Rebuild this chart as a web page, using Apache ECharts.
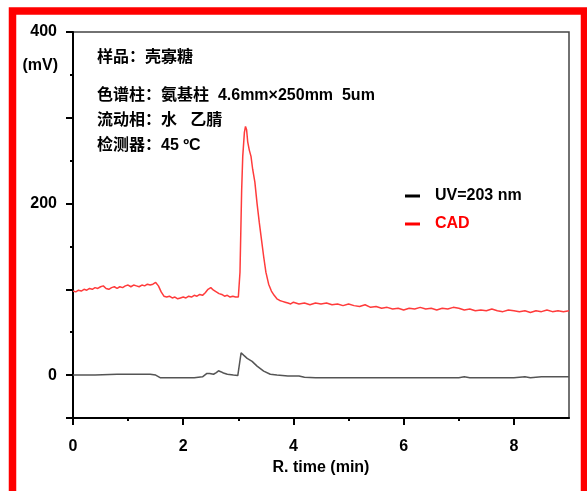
<!DOCTYPE html>
<html>
<head>
<meta charset="utf-8">
<script src="https://cdn.jsdelivr.net/npm/echarts@6/dist/echarts.min.js"></script>
<style>
    html, body { margin: 0; padding: 0; background: #fff; }
    #chart { width: 587px; height: 491px; }
</style>
</head>
<body>
<div id="chart"></div>
<script>
// CAD trace (red), retention time in min / signal in mV
var cadTime = [0.00, 0.05, 0.10, 0.15, 0.20, 0.25, 0.30, 0.35, 0.40, 0.45, 0.50, 0.55, 0.60, 0.65, 0.70, 0.75, 0.80, 0.85, 0.90, 0.95,
    1.00, 1.05, 1.10, 1.15, 1.20, 1.25, 1.30, 1.35, 1.40, 1.45, 1.50, 1.55, 1.60, 1.65, 1.70, 1.75, 1.80, 1.85, 1.90, 1.95,
    2.00, 2.05, 2.10, 2.15, 2.20, 2.25, 2.30, 2.35, 2.40, 2.45, 2.50, 2.55, 2.60, 2.65, 2.70, 2.75, 2.80, 2.85, 2.90, 2.95,
    3.00, 3.03, 3.06, 3.08, 3.11, 3.13, 3.15, 3.17, 3.20, 3.23, 3.26, 3.30, 3.34, 3.38, 3.42, 3.46, 3.50, 3.55, 3.60, 3.65,
    3.70, 3.75, 3.80, 3.85, 3.90, 3.95, 4.00, 4.10, 4.20, 4.30, 4.40, 4.50, 4.60, 4.70, 4.80, 4.90, 5.00, 5.10, 5.20, 5.30,
    5.40, 5.50, 5.60, 5.70, 5.80, 5.90, 6.00, 6.10, 6.20, 6.30, 6.40, 6.50, 6.60, 6.70, 6.80, 6.90, 7.00, 7.10, 7.20, 7.30,
    7.40, 7.50, 7.60, 7.70, 7.80, 7.90, 8.00, 8.10, 8.20, 8.30, 8.40, 8.50, 8.60, 8.70, 8.80, 8.90, 9.00];
var cadSignal = [98, 97, 99, 98, 100, 99, 101, 100, 102, 101, 103, 104, 101, 100, 102, 103, 101, 103, 102, 104,
    105, 103, 105, 104, 103, 105, 104, 106, 105, 106, 108, 104, 97, 92, 91, 92, 90, 91, 89, 90,
    91, 90, 92, 91, 93, 92, 94, 93, 96, 100, 102, 99, 97, 95, 94, 92, 93, 91, 92, 91,
    91, 120, 215, 255, 283, 290, 286, 272, 262, 255, 240, 225, 200, 178, 158, 138, 120, 106, 98, 93,
    89, 87, 86, 85, 84, 83, 85, 83, 84, 82, 84, 83, 84, 82, 83, 81, 83, 81, 80, 82,
    79, 80, 78, 79, 77, 78, 76, 78, 77, 79, 77, 78, 76, 78, 77, 79, 78, 76, 77, 75,
    76, 75, 77, 75, 74, 76, 75, 74, 75, 73, 75, 74, 76, 74, 75, 74, 75];

// UV 203 nm trace (black)
var uvTime = [0.00, 0.40, 0.80, 1.00, 1.20, 1.40, 1.50, 1.58, 1.80, 2.00, 2.20, 2.35, 2.43, 2.48, 2.55, 2.60, 2.64, 2.68, 2.73, 2.80,
    2.91, 2.99, 3.05, 3.10, 3.16, 3.25, 3.34, 3.46, 3.58, 3.70, 3.90, 4.10, 4.20, 4.40, 4.70, 5.00, 5.50, 6.00, 6.50, 7.00,
    7.10, 7.20, 7.50, 8.00, 8.20, 8.30, 8.50, 9.00];
var uvSignal = [0, 0, 1, 1, 1, 1, 0, -3, -3, -3, -3, -2, 2, 2, 1, 3, 5, 4, 2.5, 1,
    0, -0.5, 26, 23, 19.5, 16, 10.5, 4.7, 1, 0, -1, -1, -2.5, -3, -3, -3, -3, -3, -3, -3,
    -2, -3, -3, -3, -2, -3, -2, -2];

var seriesNames = ['UV=203 nm', 'CAD'];
var xLabelValues = [0, 2, 4, 6, 8];
var xMinorTicks = [1, 3, 5, 7];
var yLabelValues = [0, 200, 400];
var yMajorTicks = [-50, 0, 100, 200, 300, 400];
var yMinorTicks = [50, 150, 250, 350];

var infoLines = ['样品：壳寡糖', '色谱柱：氨基柱  4.6mm×250mm  5um', '流动相：水   乙腈', '检测器：45 ºC'];

function pairs(t, v) {
    var out = [];
    for (var i = 0; i < t.length; i++) out.push([t[i], v[i]]);
    return out;
}

var myChart = echarts.init(document.getElementById('chart'));
var latin = '"Liberation Sans", Arial, "Noto Sans CJK SC", sans-serif';
var infoY = [58, 96, 121, 146];

var graphics = [{
    type: 'rect',
    shape: { x: 12.5, y: 11, width: 572, height: 500 },
    style: { fill: null, stroke: '#ff0000', lineWidth: 7.5 },
    z: 100
}, {
    type: 'text',
    style: {
        text: '(mV)', x: 58, y: 66, align: 'right', verticalAlign: 'middle',
        font: 'bold 16px ' + latin, fill: '#000'
    }
}];
infoLines.forEach(function (s, i) {
    graphics.push({
        type: 'text',
        style: {
            text: s, x: 97, y: infoY[i], verticalAlign: 'middle',
            font: 'bold 16px ' + latin, fill: '#000'
        }
    });
});

var axisText = { color: '#000', fontSize: 16, fontWeight: 'bold', fontFamily: latin };

var option = {
    animation: false,
    backgroundColor: '#fff',
    grid: {
        left: 73, top: 32, right: 18, bottom: 73,
        show: true, borderColor: '#444', borderWidth: 1.5
    },
    legend: {
        orient: 'vertical',
        left: 400, top: 183,
        itemWidth: 15, itemHeight: 3, itemGap: 12,
        icon: 'rect',
        textStyle: { fontSize: 16, fontWeight: 'bold', fontFamily: latin, padding: [0, 0, 0, 10] },
        data: [
            { name: seriesNames[0], itemStyle: { color: '#000' }, textStyle: { color: '#000' } },
            { name: seriesNames[1], itemStyle: { color: '#ff0000' }, textStyle: { color: '#ff0000' } }
        ]
    },
    xAxis: [{
        type: 'value', min: 0, max: 9, interval: 1,
        name: 'R. time (min)', nameLocation: 'middle', nameGap: 41,
        nameTextStyle: axisText,
        axisLine: { onZero: false, lineStyle: { color: '#000', width: 2 } },
        axisTick: { customValues: xLabelValues, length: 7, lineStyle: { color: '#000', width: 2 } },
        axisLabel: Object.assign({ customValues: xLabelValues, margin: 21 }, axisText),
        splitLine: { show: false }
    }, {
        type: 'value', min: 0, max: 9, interval: 1, position: 'bottom',
        axisLine: { show: false, onZero: false },
        axisTick: { customValues: xMinorTicks, length: 3, lineStyle: { color: '#000', width: 2 } },
        axisLabel: { show: false },
        splitLine: { show: false }
    }],
    yAxis: [{
        type: 'value', min: -50, max: 400, interval: 50,
        axisLine: { onZero: false, lineStyle: { color: '#000', width: 2 } },
        axisTick: { customValues: yMajorTicks, length: 7, lineStyle: { color: '#000', width: 2 } },
        axisLabel: Object.assign({ customValues: yLabelValues, margin: 16 }, axisText),
        splitLine: { show: false }
    }, {
        type: 'value', min: -50, max: 400, interval: 50, position: 'left',
        axisLine: { show: false, onZero: false },
        axisTick: { customValues: yMinorTicks, length: 3, lineStyle: { color: '#000', width: 2 } },
        axisLabel: { show: false },
        splitLine: { show: false }
    }],
    series: [{
        name: seriesNames[0],
        type: 'line',
        showSymbol: false,
        color: '#000',
        lineStyle: { color: '#555', width: 1.5 },
        data: pairs(uvTime, uvSignal)
    }, {
        name: seriesNames[1],
        type: 'line',
        showSymbol: false,
        color: '#ff0000',
        lineStyle: { color: '#ff3b3b', width: 1.5 },
        data: pairs(cadTime, cadSignal)
    }],
    graphic: graphics
};
myChart.setOption(option);
</script>
</body>
</html>
